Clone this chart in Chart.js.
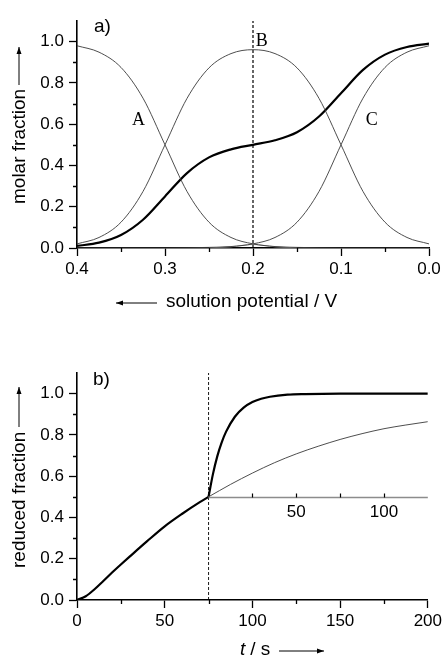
<!DOCTYPE html>
<html>
<head>
<meta charset="utf-8">
<title>molar fraction / reduced fraction</title>
<script src="https://cdn.jsdelivr.net/npm/chart.js@4/dist/chart.umd.min.js"></script>
<style>
  html, body { margin: 0; padding: 0; background: #fff; }
  #wrap { position: relative; width: 445px; height: 659px; overflow: hidden; }
  #chartA { position: absolute; left: 0; top: 0; }
  #chartB { position: absolute; left: 0; top: 330px; }
</style>
</head>
<body>
<div id="wrap">
  <canvas id="chartA" width="445" height="330"></canvas>
  <canvas id="chartB" width="445" height="329"></canvas>
</div>
<script>
'use strict';

/*** DATA: PANEL A ***/

// solution potential / V (x axis runs from 0.4 down to 0.0)
var potential = [0.4, 0.375, 0.35, 0.325, 0.3, 0.275, 0.25, 0.225, 0.2, 0.175, 0.15, 0.125, 0.1, 0.075, 0.05, 0.025, 0.0];
var fracA = [0.98, 0.949, 0.875, 0.726, 0.5, 0.274, 0.125, 0.051, 0.02, 0.007, 0.003, 0.001, 0, 0, 0, 0, 0];
var fracB = [0.02, 0.051, 0.125, 0.274, 0.5, 0.725, 0.873, 0.942, 0.961, 0.942, 0.873, 0.725, 0.5, 0.274, 0.125, 0.051, 0.02];
var fracC = [0, 0, 0, 0, 0, 0.001, 0.003, 0.007, 0.02, 0.051, 0.125, 0.274, 0.5, 0.726, 0.875, 0.949, 0.98];
var fracReduced = [0.01, 0.026, 0.063, 0.137, 0.25, 0.363, 0.439, 0.478, 0.5, 0.522, 0.561, 0.637, 0.75, 0.863, 0.937, 0.974, 0.99];
// tiny grey bump sitting on the axis around 0.2 V
var bumpPotential = [0.25, 0.225, 0.2, 0.175, 0.15];
var bumpValues = [0.001, 0.006, 0.017, 0.006, 0.001];
var markerPotential = 0.2;

var xTicksA = [0.4, 0.3, 0.2, 0.1, 0.0];
var xMinorA = [0.35, 0.25, 0.15, 0.05];

/*** DATA: PANEL B ***/

// t / s
var timeCharge = [0, 5, 10, 15, 20, 25, 30, 40, 50, 60, 70, 75];
var redCharge = [0, 0.018, 0.052, 0.092, 0.133, 0.172, 0.21, 0.285, 0.357, 0.418, 0.474, 0.5];
var timeFast = [75, 77.5, 80, 82.5, 85, 90, 95, 100, 105, 110, 120, 130, 150, 175, 200];
var redFast = [0.5, 0.61, 0.697, 0.764, 0.816, 0.888, 0.932, 0.959, 0.975, 0.985, 0.995, 0.998, 1.0, 1.0, 1.0];
var timeSlow = [75, 87.5, 100, 112.5, 125, 137.5, 150, 162.5, 175, 187.5, 200];
var redSlow = [0.5, 0.56, 0.615, 0.665, 0.708, 0.745, 0.778, 0.806, 0.83, 0.848, 0.864];
var markerTime = 75;

var xTicksB = [0, 50, 100, 150, 200];
var xMinorB = [25, 75, 125, 175];
// inset time axis drawn along y = 0.5, its zero at t = 75
var insetOrigin = 75;
var insetLevel = 0.5;
var insetTicks = [25, 50, 75, 100];
var insetLabels = [50, 100];

/*** SHARED ***/

var yMax = 1.1;
var yTicks = [0, 0.2, 0.4, 0.6, 0.8, 1.0];
var yMinor = [0.1, 0.3, 0.5, 0.7, 0.9];

var SANS = '"Liberation Sans", Arial, Helvetica, sans-serif';
var SERIF = '"Liberation Serif", "Times New Roman", serif';

// zip two arrays into {x, y} points
function toPoints(xs, ys) {
  var pts = [];
  for (var i = 0; i < xs.length; i++) {
    pts.push({ x: xs[i], y: ys[i] });
  }
  return pts;
}

function lineSet(xs, ys, color, width) {
  return {
    data: toPoints(xs, ys),
    borderColor: color,
    borderWidth: width,
    pointRadius: 0,
    fill: false,
    cubicInterpolationMode: 'monotone'
  };
}

function markerSet(xValue, width) {
  return {
    data: [{ x: xValue, y: 0 }, { x: xValue, y: yMax }],
    borderColor: '#000',
    borderWidth: width,
    borderDash: [3, 2],
    pointRadius: 0,
    fill: false
  };
}

function xScale(min, max, reverse, ticks, axisHeight) {
  return {
    type: 'linear',
    min: min,
    max: max,
    reverse: reverse,
    afterBuildTicks: function(s) {
      s.ticks = ticks.map(function(v) { return { value: v }; });
    },
    afterFit: function(s) { s.height = axisHeight; },
    ticks: {
      color: '#000',
      font: { family: SANS, size: 17 },
      padding: 3,
      maxRotation: 0,
      callback: function(v) { return reverse ? v.toFixed(1) : String(v); }
    },
    grid: { drawOnChartArea: false, drawTicks: true, tickLength: 8, tickColor: '#000', tickWidth: 1.3 },
    border: { color: '#000', width: 1.6 }
  };
}

function yScale() {
  return {
    type: 'linear',
    min: 0,
    max: yMax,
    afterBuildTicks: function(s) {
      s.ticks = yTicks.map(function(v) { return { value: v }; });
    },
    afterFit: function(s) { s.width = 77; },
    ticks: {
      color: '#000',
      font: { family: SANS, size: 17 },
      padding: 5,
      callback: function(v) { return v.toFixed(1); }
    },
    grid: { drawOnChartArea: false, drawTicks: true, tickLength: 8, tickColor: '#000', tickWidth: 1.3 },
    border: { color: '#000', width: 1.6 }
  };
}

// short ticks between the labelled ones
function drawMinorTicks(chart, xValues) {
  var ctx = chart.ctx;
  var area = chart.chartArea;
  var sx = chart.scales.x;
  var sy = chart.scales.y;
  ctx.save();
  ctx.strokeStyle = '#000';
  ctx.lineWidth = 1.3;
  ctx.beginPath();
  for (var i = 0; i < xValues.length; i++) {
    var px = Math.round(sx.getPixelForValue(xValues[i])) + 0.5;
    ctx.moveTo(px, area.bottom);
    ctx.lineTo(px, area.bottom + 4);
  }
  for (var j = 0; j < yMinor.length; j++) {
    var py = Math.round(sy.getPixelForValue(yMinor[j])) + 0.5;
    ctx.moveTo(area.left, py);
    ctx.lineTo(area.left - 4, py);
  }
  ctx.stroke();
  ctx.restore();
}

// a line with a small filled head at (x2, y2)
function drawArrow(ctx, x1, y1, x2, y2) {
  var ang = Math.atan2(y2 - y1, x2 - x1);
  ctx.save();
  ctx.strokeStyle = '#000';
  ctx.fillStyle = '#000';
  ctx.lineWidth = 1;
  ctx.beginPath();
  ctx.moveTo(x1, y1);
  ctx.lineTo(x2, y2);
  ctx.stroke();
  ctx.beginPath();
  ctx.moveTo(x2, y2);
  ctx.lineTo(x2 - 7 * Math.cos(ang) + 2.5 * Math.sin(ang), y2 - 7 * Math.sin(ang) - 2.5 * Math.cos(ang));
  ctx.lineTo(x2 - 7 * Math.cos(ang) - 2.5 * Math.sin(ang), y2 - 7 * Math.sin(ang) + 2.5 * Math.cos(ang));
  ctx.closePath();
  ctx.fill();
  ctx.restore();
}

function drawYTitle(ctx, text, baseX, startY, arrowFrom, arrowTo) {
  ctx.save();
  ctx.translate(baseX, startY);
  ctx.rotate(-Math.PI / 2);
  ctx.fillStyle = '#000';
  ctx.font = '19px ' + SANS;
  ctx.textAlign = 'left';
  ctx.textBaseline = 'alphabetic';
  ctx.fillText(text, 0, 0);
  ctx.restore();
  drawArrow(ctx, baseX - 6, arrowFrom, baseX - 6, arrowTo);
}

function drawText(ctx, text, x, y, font, align, baseline) {
  ctx.save();
  ctx.fillStyle = '#000';
  ctx.font = font;
  ctx.textAlign = align || 'left';
  ctx.textBaseline = baseline || 'alphabetic';
  ctx.fillText(text, x, y);
  ctx.restore();
}

/*** PANEL A ***/

var decorA = {
  id: 'decorA',
  afterDraw: function(chart) {
    var ctx = chart.ctx;
    var sx = chart.scales.x;
    var sy = chart.scales.y;
    drawMinorTicks(chart, xMinorA);

    drawText(ctx, 'a)', 94, 32, '19px ' + SANS);

    // species labels, placed in data units
    var labels = [['A', 0.33, 0.62], ['B', 0.19, 1.0], ['C', 0.065, 0.62]];
    for (var i = 0; i < labels.length; i++) {
      drawText(ctx, labels[i][0], sx.getPixelForValue(labels[i][1]), sy.getPixelForValue(labels[i][2]),
        '18px ' + SERIF, 'center', 'middle');
    }

    drawText(ctx, 'solution potential / V', 166, 307, '19px ' + SANS);
    drawArrow(ctx, 157, 303, 116, 303);
    drawYTitle(ctx, 'molar fraction', 25, 204, 85, 47);
  }
};

var chartA = new Chart(document.getElementById('chartA'), {
  type: 'line',
  data: {
    datasets: [
      lineSet(potential, fracA, '#3a3a3a', 0.9),
      lineSet(potential, fracB, '#3a3a3a', 0.9),
      lineSet(potential, fracC, '#3a3a3a', 0.9),
      lineSet(bumpPotential, bumpValues, '#9a9a9a', 1),
      lineSet(potential, fracReduced, '#000', 2.2),
      markerSet(markerPotential, 1.2)
    ]
  },
  options: {
    responsive: false,
    animation: false,
    layout: { padding: { top: 21, right: 16, left: 0, bottom: 0 } },
    plugins: { legend: { display: false }, tooltip: { enabled: false } },
    scales: {
      x: xScale(0, 0.4, true, xTicksA, 82),
      y: yScale()
    }
  },
  plugins: [decorA]
});

/*** PANEL B ***/

var decorB = {
  id: 'decorB',
  afterDraw: function(chart) {
    var ctx = chart.ctx;
    var sx = chart.scales.x;
    var sy = chart.scales.y;
    drawMinorTicks(chart, xMinorB);

    // inset axis
    var y0 = Math.round(sy.getPixelForValue(insetLevel)) + 0.5;
    ctx.save();
    ctx.strokeStyle = '#8c8c8c';
    ctx.lineWidth = 1.3;
    ctx.beginPath();
    ctx.moveTo(sx.getPixelForValue(insetOrigin), y0);
    ctx.lineTo(chart.chartArea.right, y0);
    ctx.stroke();
    ctx.strokeStyle = '#000';
    ctx.lineWidth = 1.2;
    ctx.beginPath();
    for (var i = 0; i < insetTicks.length; i++) {
      var px = Math.round(sx.getPixelForValue(insetOrigin + insetTicks[i])) + 0.5;
      ctx.moveTo(px, y0);
      ctx.lineTo(px, y0 - 4);
    }
    ctx.stroke();
    ctx.restore();
    for (var j = 0; j < insetLabels.length; j++) {
      drawText(ctx, String(insetLabels[j]), sx.getPixelForValue(insetOrigin + insetLabels[j]), y0 + 15,
        '17px ' + SANS, 'center', 'middle');
    }

    drawText(ctx, 'b)', 93, 55, '19px ' + SANS);

    // "t / s" with italic t
    drawText(ctx, 't', 240, 325, 'italic 19px ' + SANS);
    drawText(ctx, ' / s', 245, 325, '19px ' + SANS);
    drawArrow(ctx, 279, 321, 324, 321);
    drawYTitle(ctx, 'reduced fraction', 25, 238, 97, 57);
  }
};

var chartB = new Chart(document.getElementById('chartB'), {
  type: 'line',
  data: {
    datasets: [
      lineSet(timeSlow, redSlow, '#3a3a3a', 0.9),
      lineSet(timeCharge, redCharge, '#000', 2.2),
      lineSet(timeFast, redFast, '#000', 2.2),
      markerSet(markerTime, 0.9)
    ]
  },
  options: {
    responsive: false,
    animation: false,
    layout: { padding: { top: 43, right: 15, left: 0, bottom: 0 } },
    plugins: { legend: { display: false }, tooltip: { enabled: false } },
    scales: {
      x: xScale(0, 200, false, xTicksB, 59),
      y: yScale()
    }
  },
  plugins: [decorB]
});
</script>
</body>
</html>
